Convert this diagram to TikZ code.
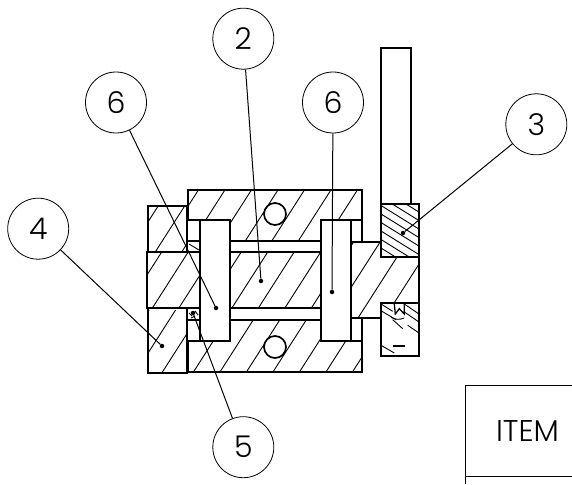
\documentclass[tikz,border=0pt]{standalone}
\usepackage{fontspec}
\setmainfont{Poppins Light}
\tikzset{
	balloon/.style={draw,circle,line width=0.8pt,minimum size=61pt,inner sep=0pt,font=\fontsize{30}{30}\selectfont},
	tip/.style={fill,circle,inner sep=0pt,minimum size=4.5pt},
	leader/.style={line width=1pt},
	edge/.style={line width=1.7pt,line join=miter},
	hatch/.style={line width=0.9pt}
}
% one family of section lines, #1 = x where a line meets y=400
\newcommand{\sectionlines}[1]{
	\foreach \K in {-6,...,14}{
		\draw[hatch] ({#1+26.5*\K-26.5*3},400) -- ({#1+26.5*\K-26.5*3+256},0);
	}
}
\begin{document}
\begin{tikzpicture}[x=1pt,y=-1pt]
		\useasboundingbox (0,0) rectangle (572,484);
		
		% section lines
		\begin{scope}
		\clip (188,190) -- (362,190) -- (362,220) -- (321,220) -- (321,241) -- (230,241) -- (230,220) -- (188,220) -- cycle (275,214) circle (11);
		\sectionlines{64}
		\end{scope}
		\begin{scope}
		\clip (188,372) -- (362,372) -- (362,341) -- (321,341) -- (321,320) -- (230,320) -- (230,341) -- (188,341) -- cycle (275,347) circle (11);
		\sectionlines{202}
		\end{scope}
		\begin{scope}
		\clip (147,252) -- (200,252) -- (200,308) -- (147,308) -- cycle (230,252) -- (321,252) -- (321,308) -- (230,308) -- cycle (351,242) -- (381,242) -- (381,257) -- (419,257) -- (419,303) -- (381,303) -- (381,318) -- (351,318) -- cycle;
		\sectionlines{173}
		\end{scope}
		\begin{scope}
		\clip (148,206) rectangle (187,251);
		\sectionlines{34}
		\end{scope}
		\begin{scope}
		\clip (148,310) rectangle (187,373);
		\sectionlines{118}
		\end{scope}
		\begin{scope}
		\clip (381,204) rectangle (419,257);
		\foreach \Y in {180,188.5,...,250}{
			\draw[hatch] (381,\Y) -- (419,{\Y+23.6});
		}
		\end{scope}
		\draw[hatch] (381,304) -- (392.7,311.3);
		\draw[hatch] (381,310.7) -- (396,319.7);
		\draw[hatch] (392.7,319.7) -- (402.7,328.7);
		\draw[hatch] (404.3,304) -- (419,314);
		\draw[hatch] (404.3,312) -- (419,322);
		\draw[hatch] (407.7,325.3) -- (419,333);
		\draw[hatch] (381,345.3) -- (394.3,353);
		
		% housing
		\draw[edge] (188,220) -- (188,190) -- (362,190) -- (362,242);
		\draw[edge] (188,341) -- (188,372) -- (362,372) -- (362,318);
		\draw[edge] (188,220) -- (200,220) (351,220) -- (362,220);
		\draw[edge] (188,341) -- (200,341) (351,341) -- (362,341);
		\draw[edge] (275,214) circle (11) (275,347) circle (11);
		
		% shaft
		\draw[edge] (200,252) -- (147,252) -- (147,308) -- (200,308);
		\draw[edge] (230,241) -- (321,241) (230,252) -- (321,252);
		\draw[edge] (230,308) -- (321,308) (230,320) -- (321,320);
		\draw[edge] (351,242) -- (381,242) -- (381,257) -- (419,257);
		\draw[edge] (351,318) -- (381,318) -- (381,303) -- (419,303);
		
		% end blocks
		\draw[edge] (148,252) -- (148,206) -- (187,206) -- (187,252);
		\draw[edge] (148,308) -- (148,373) -- (187,373) -- (187,308);
		\draw[edge] (188,241) -- (200,241) (188,320) -- (200,320);
		\draw[hatch] (189,244) -- (199,250);
		\draw[hatch] (189,313) -- (192,316) (195,311) -- (198,315) (191,318) -- (195,316);
		
		% pins
		\draw[edge] (200,220) rectangle (230,341);
		\draw[edge] (321,220) rectangle (351,341);
		
		% lever
		\draw[edge] (381,204) -- (381,48) -- (411,48) -- (411,204);
		\draw[edge] (381,257) -- (381,204) -- (419,204) -- (419,356) -- (381,356) -- (381,303);
		\draw[edge,line width=1.3pt] (394.3,304) -- (395.3,314) -- (399.3,308.7) -- (404.3,314) -- (404.3,304);
		\draw[hatch] (391,317.3) to[bend right=25] (404.3,318);
		\draw[edge] (392.7,346) -- (405.3,346);
		
		% balloons
		\node[balloon] (two) at (243.3,38.7) {2};
		\node[balloon] (sixl) at (116,102.5) {6};
		\node[balloon] (sixr) at (333,102.5) {6};
		\node[balloon] (three) at (536.3,124.3) {3};
		\node[balloon] (four) at (38.2,228.7) {4};
		\node[balloon] (five) at (243.3,447.2) {5};
		
		\node[tip] (ptwo) at (261,281) {};
		\node[tip] (psixl) at (216,308) {};
		\node[tip] (psixr) at (332,292) {};
		\node[tip] (pthree) at (403,233) {};
		\node[tip] (pfour) at (162,346) {};
		\node[tip] (pfive) at (193,313) {};
		
		\draw[leader] (two) -- (ptwo);
		\draw[leader] (sixl) -- (psixl);
		\draw[leader] (sixr) -- (psixr);
		\draw[leader] (three) -- (pthree);
		\draw[leader] (four) -- (pfour);
		\draw[leader] (five) -- (pfive);
		
		% table
		\draw[edge,line width=1pt] (572,385) -- (465.5,385) -- (465.5,484);
		\draw[edge,line width=1pt] (465.5,476) -- (572,476);
		\node[font=\fontsize{30}{30}\selectfont] (item) at (527.5,431) {ITEM};
		\end{tikzpicture}
\end{document}
